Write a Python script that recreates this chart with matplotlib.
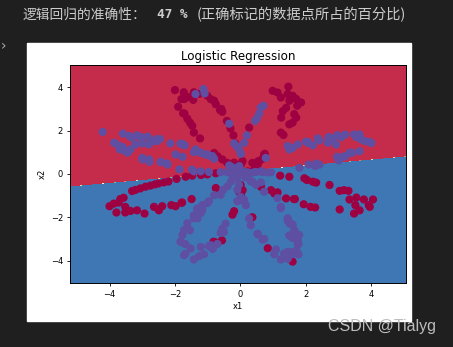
import numpy as np
import matplotlib
matplotlib.use("Agg")
import matplotlib.pyplot as plt
from matplotlib.patches import Rectangle

# points, class 0 (red) and class 1 (blue)
red_x = [-2.00, -1.73, -1.80, -1.90, -1.75, -1.71, -1.42, -1.44, -1.01, -0.80, -0.75, -0.58, -0.55,
         -1.71, -1.54, -1.47, -1.42, -1.23, -0.41, -0.21, -0.16, -1.60, -1.25, -0.90, -0.62, -1.62,
         -0.30, -0.80, -0.70, -0.55, -0.40,
         0.99, 1.14, 1.24, 1.47, 1.45, 1.50, 1.60, 1.71, 1.86, 1.74, 1.65, 1.71, 1.60, 1.50, 1.24,
         1.32, 0.27, 1.25, 1.30, 1.40, 0.37, 0.55, 0.68, 0.75, 0.00,
         0.02, 0.07, 0.23, 0.43, 0.53, 0.58, 0.73, -0.19, -0.75, 0.02, -0.04, 0.01, 0.07, -0.24,
         -0.19, 0.37, -0.78, -0.56, 0.84, 1.60, -0.82,
         -1.67, -1.95, -2.34, -2.50, -2.61, -2.75, -2.90, -3.06, -3.21, -3.31, -3.57, -3.67, -4.00,
         -3.87, -3.72, -3.79, -3.52, -3.52, -3.36, -3.16, -2.93, -2.64, -2.49, -2.39, -2.11, -1.98,
         -1.80, -1.47, -1.01, -0.75, -1.78, -1.49, -2.20, -1.20,
         0.58, 0.63, 0.94, 1.04, 1.14, 1.22, 1.50, 1.40, 1.64, 1.96, 2.04, 2.22, 2.32, 2.73, 3.04,
         3.17, 3.31, 1.67, 1.94, 2.15, 2.29, 3.04, 3.34, 3.55, 3.78, 4.06, 3.52, 3.48, 3.65, 3.93,
         3.96]
red_y = [3.87, 3.77, 3.46, 3.10, 2.80, 3.46, 3.77, 3.42, 3.61, 3.38, 3.22, 3.00, 2.87,
         2.79, 2.37, 2.22, 1.91, 1.64, 2.45, 1.78, 1.41, 3.55, 3.70, 3.45, 2.95, 2.55,
         2.10, 0.97, 0.82, 0.67, 0.51,
         3.84, 3.76, 3.53, 4.03, 3.69, 3.38, 3.61, 3.46, 3.30, 3.15, 2.76, 2.60, 2.37, 2.29, 1.91,
         1.80, 2.14, 2.60, 2.90, 3.05, 0.51, 0.59, 0.70, 0.93, 0.43,
         0.44, 0.59, 0.12, 0.20, 0.43, 0.59, 0.90, 0.52, -0.65, -0.96, -0.81, -0.51, -0.75, -1.88,
         -1.72, -2.00, -3.15, -3.07, -3.43, -4.05, -3.13,
         -0.13, -0.23, -0.39, -0.44, -0.48, -0.54, -0.59, -0.67, -0.74, -0.79, -1.10, -1.16, -1.49,
         -1.37, -1.32, -1.78, -1.52, -1.78, -1.71, -1.68, -1.83, -1.52, -1.68, -1.49, -1.44, -1.49,
         -1.33, -0.08, -0.02, 0.03, -1.32, -1.16, -0.35, -0.05,
         -0.51, -0.59, -0.75, -0.90, -0.85, -0.08, -0.13, -1.13, -1.16, -0.20, -0.28, -0.36, -0.40,
         -0.51, -0.78, -0.75, -0.78, -1.16, -1.40, -1.52, -1.55, -1.64, -1.18, -1.09, -1.18, -1.18,
         -1.44, -1.83, -1.68, -1.44, -1.52]

blue_x = [-4.21, -3.59, -3.39, -3.31, -3.16, -3.03, -2.83, -2.57, -2.46, -2.14, -1.83, -3.86, -3.69,
          -3.60, -3.69, -3.54, -3.45, -3.36, -2.99, -2.79, -2.78, -2.43, -2.23, -1.86, -3.82, -3.21,
          -3.00, -2.80, -2.65, -2.54, -1.77, -1.70, -3.00, -2.44, -2.24, -1.98, -1.77, -1.42, -1.21,
          -1.00, -0.85, -0.80, -1.48, -1.42, -1.75, -1.37, -1.21, -1.06, -0.91, -1.21, -0.96,
          -1.37, -1.13, -1.09, -0.34, 0.71, 0.63, 0.58, 0.51, 0.45, 0.20, 0.12, -0.07, 0.01, -0.11,
          0.78, 1.50, -0.19, -0.04, 0.02,
          -0.31, -0.60, -0.40, -0.19, 0.02, 0.22, 0.43, 0.68, 0.94, -0.34, -0.19, -0.03, 0.07, 0.32,
          0.48, 0.63, 0.84,
          1.76, 2.01, 2.08, 2.37, 2.42, 2.70, 2.83, 2.97, 3.09, 3.21, 3.48, 3.55, 3.65, 3.70, 3.83,
          4.01, 1.60, 3.42, 3.65, 3.21, 3.07, 3.01, 2.42, 2.29, 1.81, 1.45, 2.07, 2.22, 2.68, 2.93,
          3.14, 3.35, 3.96, 2.09, 2.32, 2.96,
          -0.29, -0.39, -0.52, -0.60, -0.04, -0.09, 0.02, 0.10, 0.32, 0.48, 0.63, -0.10, 0.15, -0.25,
          0.37, 0.73, 0.01, -0.09, 0.12, 0.17,
          -1.01, -1.16, -1.21, -1.31, -1.42, -1.62, -1.72, -1.77, -1.83, -1.68, -1.52, -1.72, -1.42,
          -1.21, -1.11, -1.26, -0.90, -0.85, -0.60, -1.81, -1.68, -0.45, -0.55, -0.50, -0.80, -0.96,
          -1.16, -1.32, -1.42, -1.54, -0.70, -0.85, -0.96,
          0.53, 0.68, 1.09, 1.04, 1.24, 1.34, 1.45, 1.57, 1.60, 1.76, 1.76, 1.78, 1.45, 1.14, 1.24,
          1.45, 1.50, 1.65, 1.80, 0.27, 0.32, 0.53, 0.73, 1.24, 1.45, 1.55, 1.50, 1.60, 1.65, 1.78,
          1.71, 1.76, 1.60]
blue_y = [1.94, 1.86, 1.75, 1.67, 1.78, 1.70, 1.72, 1.60, 1.61, 1.41, 1.40, 1.44, 1.28,
          1.24, 1.13, 1.08, 0.98, 1.13, 0.67, 0.67, 0.56, 0.56, 0.43, 0.21, 1.41, 1.36,
          1.41, 1.36, 1.52, 1.52, 1.36, 1.32, 0.74, 0.54, 0.48, 0.90, 0.79, 1.01, 0.98,
          0.90, 0.82, 0.70, 0.20, 0.12, 1.36, 1.13, 0.97, 0.89, 0.82, 0.12, 0.09,
          3.69, 3.92, 3.72, 2.32, 3.15, 3.07, 2.79, 2.57, 2.45, 1.78, 1.44, 1.24, 0.93, 1.28,
          0.74, 1.13, 1.41, 1.13, 0.94,
          0.36, 0.08, 0.08, 0.08, 0.08, 0.08, 0.08, 0.08, 0.08, 0.39, 0.28, 0.36, 0.12, 0.04,
          0.09, 0.12, 0.07,
          1.36, 1.49, 1.43, 1.64, 1.55, 1.70, 1.64, 1.79, 1.70, 1.82, 1.82, 1.70, 1.82, 1.59, 1.51,
          1.43, 1.20, 0.98, 1.05, 0.82, 0.74, 0.62, 0.43, 0.36, 0.28, 1.29, 1.47, 1.32, 1.44, 1.36,
          0.79, 0.98, 1.47, 0.43, 0.48, 0.79,
          -0.35, -0.57, -0.73, -0.96, -0.50, -0.73, -1.19, -1.19, -0.34, -0.50, -0.39, -0.20, -0.15,
          -0.05, -0.36, -0.82, -1.06, -1.26, -1.21, -1.44,
          -1.35, -1.66, -1.81, -2.05, -2.05, -2.28, -2.59, -2.82, -3.13, -3.24, -3.44, -3.75, -3.95,
          -3.37, -3.71, -3.80, -3.29, -3.44, -2.72, -3.15, -3.69, -2.30, -2.53, -2.68, -0.98, -1.26,
          -1.44, -1.60, -1.91, -2.60, -3.23, -3.46, -3.33,
          -2.78, -3.03, -3.49, -3.71, -3.95, -3.68, -3.60, -3.71, -2.96, -3.08, -3.24, -3.71, -3.92,
          -1.12, -1.58, -2.05, -2.28, -2.59, -2.82, -2.06, -2.37, -2.76, -3.00, -1.52, -2.14, -2.30,
          -2.84, -2.34, -2.92, -3.23, -3.54, -3.69, -3.61]

# logistic regression boundary: x2 = slope * x1 + intercept (class 0 above)
slope = 0.135
intercept = 0.10

header_a = "逻辑回归的准确性："
header_b = "47 %"
header_c = "(正确标记的数据点所占的百分比)"

X1 = np.array(red_x + blue_x)
X2 = np.array(red_y + blue_y)
Y = np.array([0] * len(red_x) + [1] * len(blue_x))

x_min, x_max = X1.min() - 1, X1.max() + 1
y_min, y_max = X2.min() - 1, X2.max() + 1
h = 0.01
xx, yy = np.meshgrid(np.arange(x_min, x_max, h), np.arange(y_min, y_max, h))
Z = (yy < slope * xx + intercept).astype(int)

W, H = 453, 347
fig = plt.figure(figsize=(W / 100, H / 100), dpi=100, facecolor="#1f1f1f")
fig.patches.append(Rectangle((27 / W, (H - 321) / H), 384 / W, 278 / H,
                             transform=fig.transFigure, color="white", zorder=-1))

ax = fig.add_axes([70 / W, (H - 283.3) / H, 335.7 / W, 218.3 / H])
ax.contourf(xx, yy, Z, cmap=plt.cm.Spectral)
ax.scatter(X1, X2, c=Y, s=24, cmap=plt.cm.Spectral)
ax.set_xlim(x_min, x_max)
ax.set_ylim(y_min, y_max)
ax.set_xticks([-4, -2, 0, 2, 4])
ax.set_yticks([-4, -2, 0, 2, 4])
ax.tick_params(labelsize=6, length=2.5, pad=2.5, width=0.6)
for s in ax.spines.values():
    s.set_linewidth(0.7)
ax.set_title("Logistic Regression", fontsize=8.6, pad=3.5)
ax.set_xlabel("x1", fontsize=6, labelpad=2)
ax.set_ylabel("x2", fontsize=6, labelpad=3)

ty = (H - 15) / H
cjk = ["Noto Sans CJK SC", "DejaVu Sans"]
fig.text(23 / W, ty, header_a, family=cjk, size=9.9, color="#cccccc", va="center")
fig.text(157 / W, ty, header_b, family="DejaVu Sans Mono", weight="bold",
         size=9.2, color="#cccccc", va="center")
fig.text(197 / W, ty, header_c, family=cjk, size=10.3, color="#cccccc", va="center")
fig.text(1 / W, (H - 46) / H, "›", color="#aaaaaa", size=10, va="center")
fig.text(328 / W, (H - 327) / H, "CSDN @Tialyg", family="Liberation Sans",
         size=11.5, color="#bdbdbd", va="center")

fig.savefig("out.png", dpi=100, facecolor=fig.get_facecolor())
